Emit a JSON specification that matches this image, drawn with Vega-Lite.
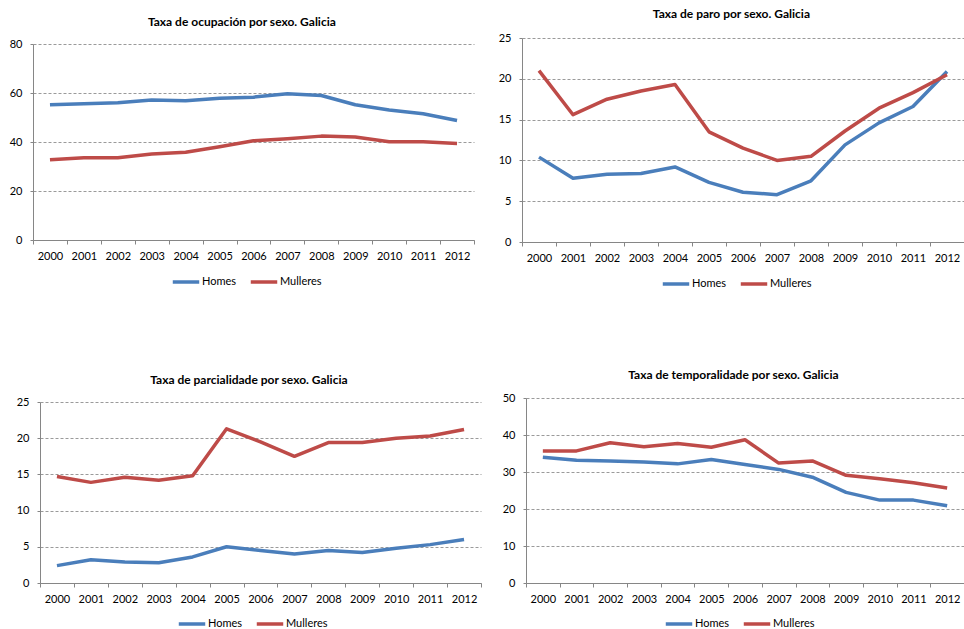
{
  "$schema": "https://vega.github.io/schema/vega-lite/v6.json",
  "background": "white",
  "padding": {"left": 9, "top": 8, "right": 0, "bottom": 0},
  "config": {
    "font": "Lato",
    "view": {"stroke": null},
    "axis": {"labelFontSize": 11, "labelColor": "#000000", "domainColor": "#868686", "tickColor": "#868686", "title": null, "labelFont": "Lato"},
    "axisX": {"grid": false, "tickBand": "extent", "tickSize": 4, "labelAngle": 0, "labelPadding": 6},
    "axisY": {"grid": true, "gridColor": "#9a9a9a", "gridDash": [3, 2], "tickSize": 3, "labelPadding": 8},
    "legend": {"orient": "none", "title": null, "direction": "horizontal", "symbolType": "stroke", "symbolSize": 700, "symbolStrokeWidth": 3.5, "labelOffset": 1, "columnPadding": 12, "labelFontSize": 11, "labelColor": "#000000"},
    "title": {"fontSize": 12, "fontWeight": "bold", "frame": "bounds", "color": "#000000"},
    "line": {"strokeWidth": 3.5, "strokeJoin": "round"}
  },
  "resolve": {"scale": {"color": "independent"}, "legend": {"color": "independent"}},
  "columns": 2,
  "spacing": {"row": 80, "column": 16},
  "concat": [
    {
      "title": {"text": "Taxa de ocupación por sexo. Galicia", "offset": 9},
      "width": 441, "height": 202,
      "data": {"values": [
        {"ano": "2000", "sexo": "Homes", "v": 55.2}, {"ano": "2001", "sexo": "Homes", "v": 55.6}, {"ano": "2002", "sexo": "Homes", "v": 56.0}, {"ano": "2003", "sexo": "Homes", "v": 57.1}, {"ano": "2004", "sexo": "Homes", "v": 56.8}, {"ano": "2005", "sexo": "Homes", "v": 57.9}, {"ano": "2006", "sexo": "Homes", "v": 58.3}, {"ano": "2007", "sexo": "Homes", "v": 59.7}, {"ano": "2008", "sexo": "Homes", "v": 59.0}, {"ano": "2009", "sexo": "Homes", "v": 55.2}, {"ano": "2010", "sexo": "Homes", "v": 53.1}, {"ano": "2011", "sexo": "Homes", "v": 51.5}, {"ano": "2012", "sexo": "Homes", "v": 48.8},
        {"ano": "2000", "sexo": "Mulleres", "v": 32.8}, {"ano": "2001", "sexo": "Mulleres", "v": 33.6}, {"ano": "2002", "sexo": "Mulleres", "v": 33.6}, {"ano": "2003", "sexo": "Mulleres", "v": 35.1}, {"ano": "2004", "sexo": "Mulleres", "v": 35.8}, {"ano": "2005", "sexo": "Mulleres", "v": 38.1}, {"ano": "2006", "sexo": "Mulleres", "v": 40.5}, {"ano": "2007", "sexo": "Mulleres", "v": 41.3}, {"ano": "2008", "sexo": "Mulleres", "v": 42.4}, {"ano": "2009", "sexo": "Mulleres", "v": 42.0}, {"ano": "2010", "sexo": "Mulleres", "v": 40.1}, {"ano": "2011", "sexo": "Mulleres", "v": 40.1}, {"ano": "2012", "sexo": "Mulleres", "v": 39.4}
      ]},
      "mark": "line",
      "encoding": {
        "x": {"field": "ano", "type": "ordinal", "bandPosition": 0.5, "scale": {"type": "band", "paddingInner": 0, "paddingOuter": 0}},
        "y": {"field": "v", "type": "quantitative", "scale": {"domain": [0, 80], "nice": false, "range": [202, 6]}, "axis": {"values": [0, 20, 40, 60, 80]}},
        "color": {"field": "sexo", "type": "nominal", "scale": {"domain": ["Homes", "Mulleres"], "range": ["#4A7EBB", "#BE4B48"]}, "legend": {"legendX": 138, "legendY": 229}}
      }
    },
    {
      "title": {"text": "Taxa de paro por sexo. Galicia", "offset": 11},
      "width": 442, "height": 204,
      "data": {"values": [
        {"ano": "2000", "sexo": "Homes", "v": 10.4}, {"ano": "2001", "sexo": "Homes", "v": 7.8}, {"ano": "2002", "sexo": "Homes", "v": 8.3}, {"ano": "2003", "sexo": "Homes", "v": 8.4}, {"ano": "2004", "sexo": "Homes", "v": 9.2}, {"ano": "2005", "sexo": "Homes", "v": 7.3}, {"ano": "2006", "sexo": "Homes", "v": 6.1}, {"ano": "2007", "sexo": "Homes", "v": 5.8}, {"ano": "2008", "sexo": "Homes", "v": 7.5}, {"ano": "2009", "sexo": "Homes", "v": 11.9}, {"ano": "2010", "sexo": "Homes", "v": 14.6}, {"ano": "2011", "sexo": "Homes", "v": 16.6}, {"ano": "2012", "sexo": "Homes", "v": 20.9},
        {"ano": "2000", "sexo": "Mulleres", "v": 21.0}, {"ano": "2001", "sexo": "Mulleres", "v": 15.6}, {"ano": "2002", "sexo": "Mulleres", "v": 17.5}, {"ano": "2003", "sexo": "Mulleres", "v": 18.5}, {"ano": "2004", "sexo": "Mulleres", "v": 19.3}, {"ano": "2005", "sexo": "Mulleres", "v": 13.5}, {"ano": "2006", "sexo": "Mulleres", "v": 11.5}, {"ano": "2007", "sexo": "Mulleres", "v": 10.0}, {"ano": "2008", "sexo": "Mulleres", "v": 10.5}, {"ano": "2009", "sexo": "Mulleres", "v": 13.6}, {"ano": "2010", "sexo": "Mulleres", "v": 16.4}, {"ano": "2011", "sexo": "Mulleres", "v": 18.3}, {"ano": "2012", "sexo": "Mulleres", "v": 20.5}
      ]},
      "mark": "line",
      "encoding": {
        "x": {"field": "ano", "type": "ordinal", "bandPosition": 0.5, "scale": {"type": "band", "paddingInner": 0, "paddingOuter": 0}},
        "y": {"field": "v", "type": "quantitative", "scale": {"domain": [0, 25], "nice": false}, "axis": {"values": [0, 5, 10, 15, 20, 25]}},
        "color": {"field": "sexo", "type": "nominal", "scale": {"domain": ["Homes", "Mulleres"], "range": ["#4A7EBB", "#BE4B48"]}, "legend": {"legendX": 139, "legendY": 231}}
      }
    },
    {
      "title": {"text": "Taxa de parcialidade por sexo. Galicia", "offset": 9},
      "width": 441, "height": 185,
      "data": {"values": [
        {"ano": "2000", "sexo": "Homes", "v": 2.4}, {"ano": "2001", "sexo": "Homes", "v": 3.2}, {"ano": "2002", "sexo": "Homes", "v": 2.9}, {"ano": "2003", "sexo": "Homes", "v": 2.8}, {"ano": "2004", "sexo": "Homes", "v": 3.6}, {"ano": "2005", "sexo": "Homes", "v": 5.0}, {"ano": "2006", "sexo": "Homes", "v": 4.5}, {"ano": "2007", "sexo": "Homes", "v": 4.0}, {"ano": "2008", "sexo": "Homes", "v": 4.5}, {"ano": "2009", "sexo": "Homes", "v": 4.2}, {"ano": "2010", "sexo": "Homes", "v": 4.8}, {"ano": "2011", "sexo": "Homes", "v": 5.3}, {"ano": "2012", "sexo": "Homes", "v": 6.0},
        {"ano": "2000", "sexo": "Mulleres", "v": 14.7}, {"ano": "2001", "sexo": "Mulleres", "v": 13.9}, {"ano": "2002", "sexo": "Mulleres", "v": 14.6}, {"ano": "2003", "sexo": "Mulleres", "v": 14.2}, {"ano": "2004", "sexo": "Mulleres", "v": 14.8}, {"ano": "2005", "sexo": "Mulleres", "v": 21.3}, {"ano": "2006", "sexo": "Mulleres", "v": 19.5}, {"ano": "2007", "sexo": "Mulleres", "v": 17.5}, {"ano": "2008", "sexo": "Mulleres", "v": 19.4}, {"ano": "2009", "sexo": "Mulleres", "v": 19.4}, {"ano": "2010", "sexo": "Mulleres", "v": 20.0}, {"ano": "2011", "sexo": "Mulleres", "v": 20.3}, {"ano": "2012", "sexo": "Mulleres", "v": 21.2}
      ]},
      "mark": "line",
      "encoding": {
        "x": {"field": "ano", "type": "ordinal", "bandPosition": 0.5, "scale": {"type": "band", "paddingInner": 0, "paddingOuter": 0, "range": [7, 448]}},
        "y": {"field": "v", "type": "quantitative", "scale": {"domain": [0, 25], "nice": false, "range": [185, 4]}, "axis": {"values": [0, 5, 10, 15, 20, 25], "offset": -7}},
        "color": {"field": "sexo", "type": "nominal", "scale": {"domain": ["Homes", "Mulleres"], "range": ["#4A7EBB", "#BE4B48"]}, "legend": {"legendX": 144, "legendY": 211}}
      }
    },
    {
      "title": {"text": "Taxa de temporalidade por sexo. Galicia", "offset": 10},
      "width": 438, "height": 185,
      "data": {"values": [
        {"ano": "2000", "sexo": "Homes", "v": 34.0}, {"ano": "2001", "sexo": "Homes", "v": 33.2}, {"ano": "2002", "sexo": "Homes", "v": 33.0}, {"ano": "2003", "sexo": "Homes", "v": 32.7}, {"ano": "2004", "sexo": "Homes", "v": 32.2}, {"ano": "2005", "sexo": "Homes", "v": 33.4}, {"ano": "2006", "sexo": "Homes", "v": 32.0}, {"ano": "2007", "sexo": "Homes", "v": 30.7}, {"ano": "2008", "sexo": "Homes", "v": 28.6}, {"ano": "2009", "sexo": "Homes", "v": 24.5}, {"ano": "2010", "sexo": "Homes", "v": 22.4}, {"ano": "2011", "sexo": "Homes", "v": 22.4}, {"ano": "2012", "sexo": "Homes", "v": 20.9},
        {"ano": "2000", "sexo": "Mulleres", "v": 35.7}, {"ano": "2001", "sexo": "Mulleres", "v": 35.7}, {"ano": "2002", "sexo": "Mulleres", "v": 37.9}, {"ano": "2003", "sexo": "Mulleres", "v": 36.8}, {"ano": "2004", "sexo": "Mulleres", "v": 37.7}, {"ano": "2005", "sexo": "Mulleres", "v": 36.7}, {"ano": "2006", "sexo": "Mulleres", "v": 38.7}, {"ano": "2007", "sexo": "Mulleres", "v": 32.4}, {"ano": "2008", "sexo": "Mulleres", "v": 33.0}, {"ano": "2009", "sexo": "Mulleres", "v": 29.1}, {"ano": "2010", "sexo": "Mulleres", "v": 28.2}, {"ano": "2011", "sexo": "Mulleres", "v": 27.1}, {"ano": "2012", "sexo": "Mulleres", "v": 25.7}
      ]},
      "mark": "line",
      "encoding": {
        "x": {"field": "ano", "type": "ordinal", "bandPosition": 0.5, "scale": {"type": "band", "paddingInner": 0, "paddingOuter": 0, "range": [4, 442]}},
        "y": {"field": "v", "type": "quantitative", "scale": {"domain": [0, 50], "nice": false}, "axis": {"values": [0, 10, 20, 30, 40, 50], "offset": -4}},
        "color": {"field": "sexo", "type": "nominal", "scale": {"domain": ["Homes", "Mulleres"], "range": ["#4A7EBB", "#BE4B48"]}, "legend": {"legendX": 142, "legendY": 211}}
      }
    }
  ]
}
